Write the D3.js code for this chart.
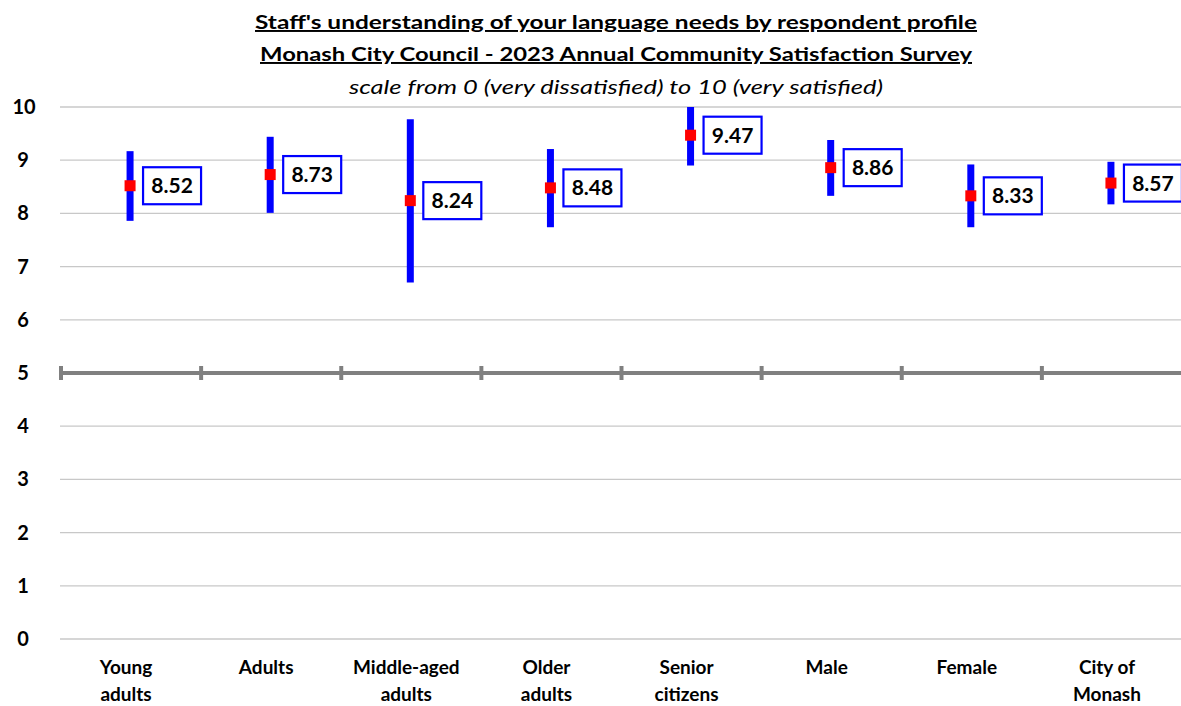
<!DOCTYPE html>
<html><head><meta charset="utf-8">
<script src="https://cdn.jsdelivr.net/npm/d3@7"></script>
<style>
body{margin:0;background:#fff;}
svg{display:block;font-family:Lato,"Open Sans",sans-serif;}
</style></head>
<body><svg id="c" width="1181" height="706"></svg>
<script>
const categories = [["Young","adults"],["Adults"],["Middle-aged","adults"],["Older","adults"],["Senior","citizens"],["Male"],["Female"],["City of","Monash"]];
const means = [8.52, 8.73, 8.24, 8.48, 9.47, 8.86, 8.33, 8.57];
const lower = [7.86, 8.01, 6.70, 7.74, 8.90, 8.33, 7.74, 8.17];
const upper = [9.17, 9.44, 9.77, 9.21, 10.04, 9.38, 8.92, 8.97];
const yTicks = [0,1,2,3,4,5,6,7,8,9,10];
const titles = ["Staff's understanding of your language needs by respondent profile","Monash City Council - 2023 Annual Community Satisfaction Survey"];
const subtitle = "scale from 0 (very dissatisfied) to 10 (very satisfied)";

const svg = d3.select("#c");
const mLeft = 60, mRight = 1181, mTop = 107, mBottom = 639;
const x = d3.scaleBand().domain(d3.range(categories.length)).range([mLeft, mRight]);
const y = d3.scaleLinear().domain([0,10]).range([mBottom, mTop]);

// titles
titles.forEach((t,i)=>{
  svg.append("text").attr("x",616).attr("y",29+i*32).attr("text-anchor","middle")
    .attr("font-size",19.5).attr("font-weight","bold").attr("text-decoration","underline")
    .attr("textLength", i==0?722:712).attr("lengthAdjust","spacingAndGlyphs").text(t);
});
svg.append("text").attr("x",616).attr("y",94).attr("text-anchor","middle")
  .attr("font-size",19.5).attr("font-style","italic").attr("textLength",534).attr("lengthAdjust","spacingAndGlyphs").text(subtitle);

// gridlines
svg.append("g").selectAll("line").data(yTicks.filter(d=>d!==5)).join("line")
  .attr("x1",mLeft).attr("x2",mRight).attr("y1",d=>y(d)).attr("y2",d=>y(d))
  .attr("stroke","#c8c8c8").attr("stroke-width",1.3);

// y labels
svg.append("g").selectAll("text").data(yTicks).join("text")
  .attr("x",d=>d===10?24:23).attr("y",d=>y(d)+7).attr("text-anchor","middle")
  .attr("font-size",20).attr("font-weight","bold").text(d=>d);

// 5 reference line with ticks
svg.append("line").attr("x1",mLeft).attr("x2",mRight).attr("y1",y(5)).attr("y2",y(5))
  .attr("stroke","#808080").attr("stroke-width",4);
const bounds = d3.range(categories.length).map(i=>x(i));
svg.append("g").selectAll("line").data(bounds).join("line")
  .attr("x1",d=>d+1).attr("x2",d=>d+1).attr("y1",y(5)-7).attr("y2",y(5)+7)
  .attr("stroke","#808080").attr("stroke-width",4);

// clip for plot
svg.append("clipPath").attr("id","pc").append("rect").attr("x",0).attr("y",mTop).attr("width",1181).attr("height",mBottom-mTop);
const g = svg.append("g").attr("clip-path","url(#pc)");
const cx = i => x(i)+x.bandwidth()/2;

g.selectAll("line.err").data(means).join("line").attr("class","err")
  .attr("x1",(d,i)=>cx(i)).attr("x2",(d,i)=>cx(i))
  .attr("y1",(d,i)=>y(upper[i])).attr("y2",(d,i)=>y(lower[i]))
  .attr("stroke","#0000ff").attr("stroke-width",7);
g.selectAll("rect.pt").data(means).join("rect").attr("class","pt")
  .attr("x",(d,i)=>cx(i)-5.5).attr("y",d=>y(d)-5.5).attr("width",11).attr("height",11)
  .attr("fill","#ff0000");

// label boxes
const lb = svg.append("g");
means.forEach((d,i)=>{
  lb.append("rect").attr("x",cx(i)+13).attr("y",y(d)-18.5).attr("width",58).attr("height",37)
    .attr("fill","#fff").attr("stroke","#0000ff").attr("stroke-width",2.2);
  lb.append("text").attr("x",cx(i)+42).attr("y",y(d)+7.5).attr("text-anchor","middle")
    .attr("font-size",21).attr("font-weight","bold").text(d.toFixed(2));
});

// x labels
categories.forEach((lines,i)=>{
  lines.forEach((l,j)=>{
    svg.append("text").attr("x",cx(i)-4).attr("y",674+j*27).attr("text-anchor","middle")
      .attr("font-size",19).attr("font-weight","bold").text(l);
  });
});
</script></body></html>
